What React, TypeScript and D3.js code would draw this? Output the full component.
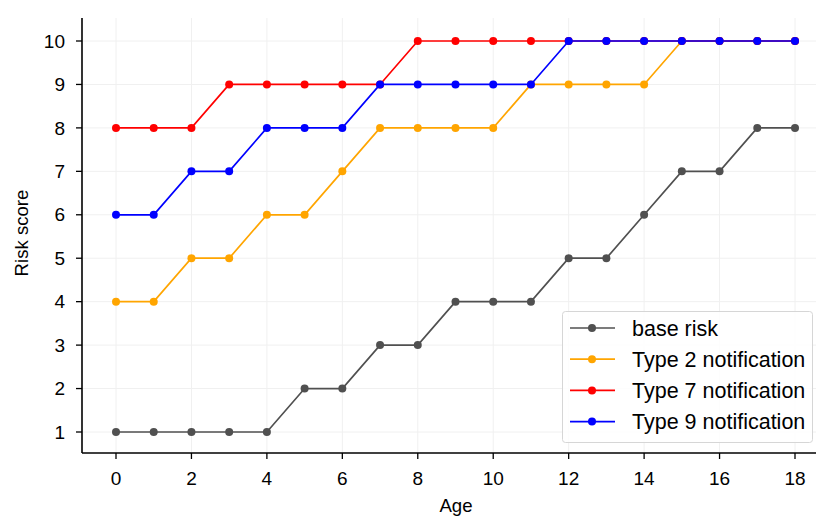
import React from "react";
import { scaleLinear, line } from "d3";

const width = 816;
const height = 516;

const ages = [0, 1, 2, 3, 4, 5, 6, 7, 8, 9, 10, 11, 12, 13, 14, 15, 16, 17, 18];
const baseRisk = [1, 1, 1, 1, 1, 2, 2, 3, 3, 4, 4, 4, 5, 5, 6, 7, 7, 8, 8];
const type2 = [4, 4, 5, 5, 6, 6, 7, 8, 8, 8, 8, 9, 9, 9, 9, 10, 10, 10, 10];
const type7 = [8, 8, 8, 9, 9, 9, 9, 9, 10, 10, 10, 10, 10, 10, 10, 10, 10, 10, 10];
const type9 = [6, 6, 7, 7, 8, 8, 8, 9, 9, 9, 9, 9, 10, 10, 10, 10, 10, 10, 10];

const xTicks = [0, 2, 4, 6, 8, 10, 12, 14, 16, 18];
const yTicks = [1, 2, 3, 4, 5, 6, 7, 8, 9, 10];

const series = [
  { name: "base risk", values: baseRisk, color: "#505050" },
  { name: "Type 2 notification", values: type2, color: "#ffa500" },
  { name: "Type 7 notification", values: type7, color: "#ff0000" },
  { name: "Type 9 notification", values: type9, color: "#0000ff" },
];

const left = 82;
const right = 829;
const top = 18;
const bottom = 453;

const font = "'Liberation Sans', Arial, Helvetica, sans-serif";

export default function App() {
  // x: 0 -> 116, 18 -> 795
  const xScale = scaleLinear().domain([0, 18]).range([116, 795]);
  // y: 1 -> 432, 10 -> 41
  const yScale = scaleLinear().domain([1, 10]).range([432, 41]);

  const path = line<number>()
    .x((_, i) => xScale(ages[i]))
    .y((d) => yScale(d));

  return (
    <svg
      width={width}
      height={height}
      style={{ position: "absolute", left: 0, top: 0 }}
      fontFamily={font}
    >
      <rect width={width} height={height} fill="#fff" />

      {/* grid */}
      {xTicks.map((t) => (
        <line key={"gx" + t} x1={xScale(t)} x2={xScale(t)} y1={top} y2={bottom} stroke="#f0f0f0" strokeWidth={1} />
      ))}
      {yTicks.map((t) => (
        <line key={"gy" + t} x1={left} x2={right} y1={yScale(t)} y2={yScale(t)} stroke="#f0f0f0" strokeWidth={1} />
      ))}

      {/* series */}
      {series.map((s) => (
        <g key={s.name}>
          <path d={path(s.values) || ""} fill="none" stroke={s.color} strokeWidth={1.7} />
          {s.values.map((v, i) => (
            <circle key={i} cx={xScale(ages[i])} cy={yScale(v)} r={4} fill={s.color} />
          ))}
        </g>
      ))}

      {/* axes */}
      <line x1={left} x2={left} y1={top} y2={bottom} stroke="#000" strokeWidth={1.6} />
      <line x1={left} x2={right} y1={bottom} y2={bottom} stroke="#000" strokeWidth={1.6} />
      {xTicks.map((t) => (
        <g key={"tx" + t} transform={`translate(${xScale(t)},${bottom})`}>
          <line y2={6} stroke="#000" strokeWidth={1.3} />
          <text y={32} textAnchor="middle" fontSize={19} fill="#000">
            {t}
          </text>
        </g>
      ))}
      {yTicks.map((t) => (
        <g key={"ty" + t} transform={`translate(${left},${yScale(t)})`}>
          <line x2={-6} stroke="#000" strokeWidth={1.3} />
          <text x={-17} dy="0.35em" textAnchor="end" fontSize={19} fill="#000">
            {t}
          </text>
        </g>
      ))}
      <text x={456} y={512} textAnchor="middle" fontSize={18.6} fill="#000">
        Age
      </text>
      <text transform={`translate(28,233) rotate(-90)`} textAnchor="middle" fontSize={18.6} fill="#000">
        Risk score
      </text>

      {/* legend */}
      <rect x={562.5} y={311.5} width={250} height={131} rx={3} fill="#fff" fillOpacity={0.85} stroke="#d6d6d6" strokeWidth={1} />
      {series.map((s, i) => {
        const y = 328 + i * 31.2;
        return (
          <g key={"lg" + s.name}>
            <line x1={570} x2={615} y1={y} y2={y} stroke={s.color} strokeWidth={1.7} />
            <circle cx={592} cy={y} r={4} fill={s.color} />
            <text x={632} y={y} dy="0.35em" fontSize={21.5} fill="#000">
              {s.name}
            </text>
          </g>
        );
      })}
    </svg>
  );
}
